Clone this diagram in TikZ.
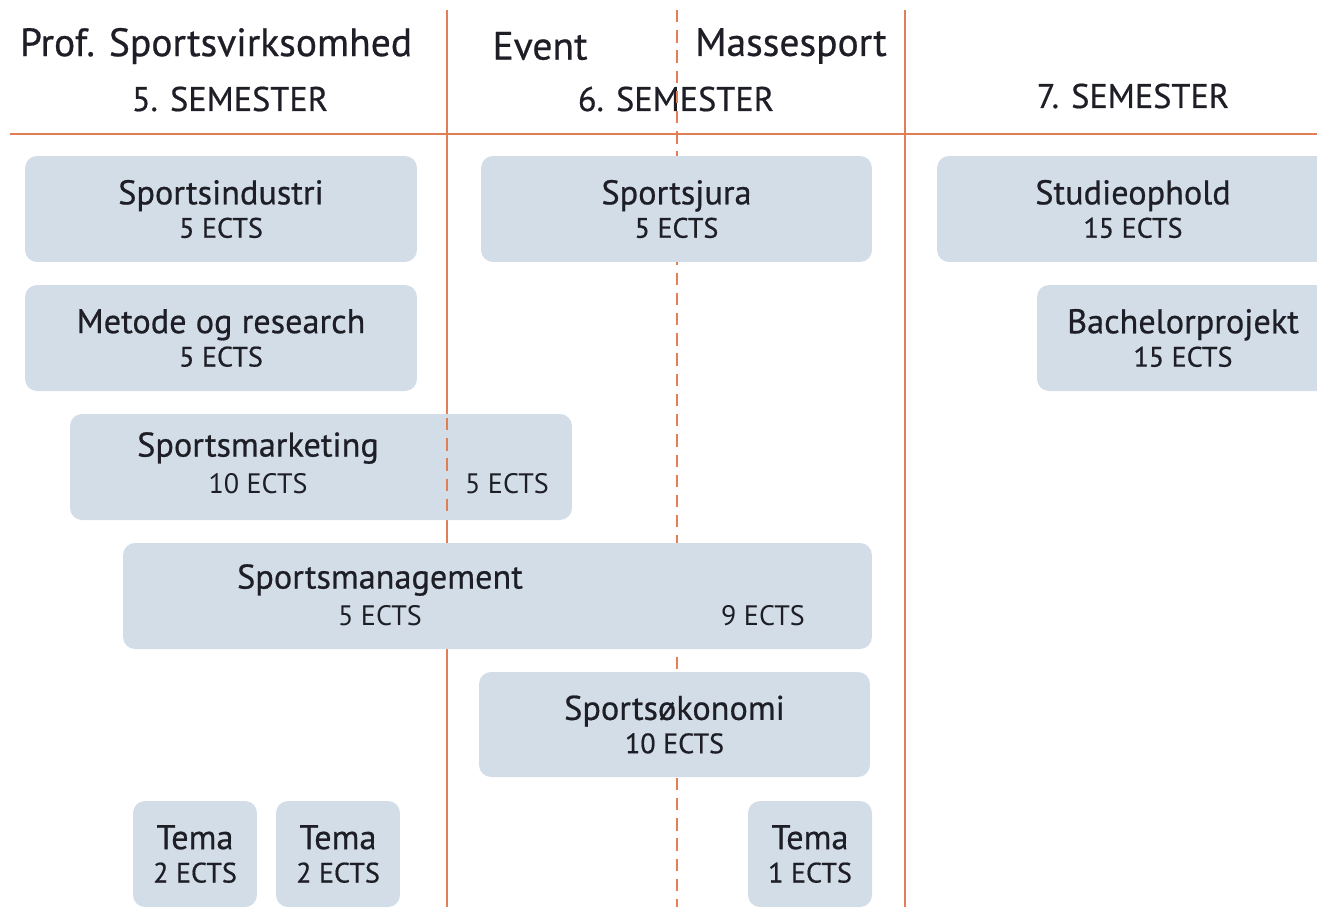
\documentclass[tikz,border=0pt]{standalone}
\usepackage{fontspec}
\setmainfont{PT Sans}
\newfontfamily\medfont[FakeBold=0.6]{PT Sans}
\usetikzlibrary{shapes}
\definecolor{boxblue}{RGB}{211,221,232}
\definecolor{lineorange}{RGB}{226,126,86}
\definecolor{txt}{RGB}{30,30,38}
\newcommand{\titlefont}{\medfont\fontsize{19.5}{22}\selectfont}
\newcommand{\headfont}{\medfont\fontsize{22.5}{26}\selectfont}
\newcommand{\ectsfont}{\fontsize{16}{18}\selectfont}
\tikzstyle{course} = [rectangle, fill=boxblue, rounded corners=0.24cm, text=txt, align=center, inner sep=0pt, minimum height=2.12cm, font=\titlefont]
\tikzstyle{label} = [text=txt, align=center, inner sep=0pt, font=\titlefont]
\tikzstyle{track} = [text=txt, inner sep=0pt, font=\headfont]
\tikzstyle{ects} = [text=txt, inner sep=0pt, font=\ectsfont]
\tikzstyle{border} = [draw=lineorange, line width=1.1pt]
\tikzstyle{split} = [border, dash pattern=on 7pt off 4.5pt]

\begin{document}
\begin{tikzpicture}[x=0.02cm, y=-0.02cm]
\useasboundingbox (0,0) rectangle (1317,907);
\clip (0,0) rectangle (1317,907);

% semester headers
\node [track] (prof) at (216,46) {Prof. Sportsvirksomhed};
\node [label] (sem5) at (230,99) {5. SEMESTER};
\node [track] (event) at (540,46) {Event};
\node [track] (masse) at (791,46) {Massesport};
\node [label] (sem6) at (676,99) {6. SEMESTER};
\node [label] (sem7) at (1133,96) {7. SEMESTER};

% grid lines
\coordinate (hl) at (10,134);
\coordinate (hr) at (1317,134);
\coordinate (v5t) at (447,10);
\coordinate (v5b) at (447,907);
\coordinate (v6t) at (677,10);
\coordinate (v6b) at (677,907);
\coordinate (v7t) at (905,10);
\coordinate (v7b) at (905,907);
\path [border] (hl) -- (hr);
\path [border] (v5t) -- (v5b);
\path [border] (v7t) -- (v7b);
\path [split] (v6t) -- (v6b);

% 5. semester
\node [course, minimum width=7.84cm] (sind) at (221,209) {Sportsindustri\\[-3pt]{\ectsfont 5 ECTS}};
\node [course, minimum width=7.84cm] (metode) at (221,338) {Metode og research\\[-3pt]{\ectsfont 5 ECTS}};

% spanning courses
\node [course, minimum width=10.04cm] (smark) at (321,467) {};
\node [label] (smarkt) at (258,448) {Sportsmarketing};
\node [ects] (smark5) at (258,484) {10 ECTS};
\node [ects] (smark6) at (507,484) {5 ECTS};
\coordinate (mt) at (447,418);
\coordinate (mb) at (447,517);
\path [split] (mt) -- (mb);

\node [course, minimum width=14.98cm] (smgmt) at (497.5,596) {};
\node [label] (smgmtt) at (380,580) {Sportsmanagement};
\node [ects] (smgmt5) at (380,616) {5 ECTS};
\node [ects] (smgmt6) at (763,616) {9 ECTS};

% 6. semester
\node [course, minimum width=7.82cm] (sjura) at (676.5,209) {Sportsjura\\[-3pt]{\ectsfont 5 ECTS}};
\node [course, minimum width=7.82cm, minimum height=2.1cm] (sokon) at (674.5,724.5) {Sportsøkonomi\\[-3pt]{\ectsfont 10 ECTS}};

% temaer
\node [course, minimum width=2.48cm] (tema1) at (195,854) {Tema\\[-3pt]{\ectsfont 2 ECTS}};
\node [course, minimum width=2.48cm] (tema2) at (338,854) {Tema\\[-3pt]{\ectsfont 2 ECTS}};
\node [course, minimum width=2.48cm] (tema3) at (810,854) {Tema\\[-3pt]{\ectsfont 1 ECTS}};

% 7. semester
\node [course, minimum width=7.84cm] (studie) at (1133,209) {Studieophold\\[-3pt]{\ectsfont 15 ECTS}};
\node [course, minimum width=5.84cm] (bach) at (1183,338) {Bachelorprojekt\\[-3pt]{\ectsfont 15 ECTS}};

\end{tikzpicture}
\end{document}
